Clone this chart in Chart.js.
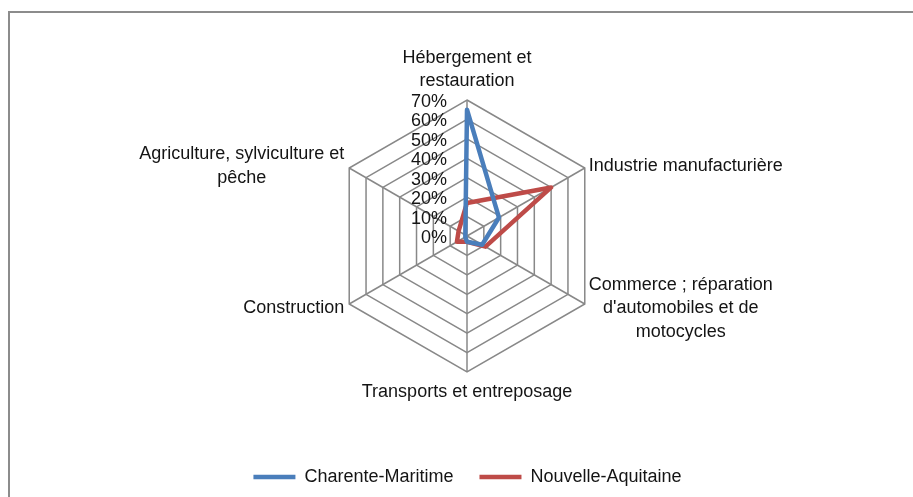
<!DOCTYPE html>
<html>
<head>
<meta charset="utf-8">
<script src="https://cdn.jsdelivr.net/npm/chart.js@4/dist/chart.umd.min.js"></script>
<style>
  html, body { margin: 0; padding: 0; background: #ffffff; overflow: hidden; }
  #frame { position: absolute; left: 8px; top: 11px; width: 2000px; height: 2000px; border-left: 2px solid #8c8c8c; border-top: 2px solid #8c8c8c; }
  #c { position: absolute; left: 0; top: 0; }
</style>
</head>
<body>
<div id="frame"></div>
<canvas id="c" width="913" height="497"></canvas>
<script>
// ---- Data ----
const categories = [
  ["Hébergement et", "restauration"],
  "Industrie manufacturière",
  ["Commerce ; réparation", "d'automobiles et de", "motocycles"],
  "Transports et entreposage",
  "Construction",
  ["Agriculture, sylviculture et", "pêche"]
];
const seriesNames = ["Charente-Maritime", "Nouvelle-Aquitaine"];
const charenteMaritime = [65, 19, 9, 3, 1, 1];
const nouvelleAquitaine = [17, 50, 11, 3, 6, 5];
const tickValues = [0, 10, 20, 30, 40, 50, 60, 70];
const tickLabels = ["0%", "10%", "20%", "30%", "40%", "50%", "60%", "70%"];

// ---- Styles ----
const FONT = '"Liberation Sans", Arial, sans-serif';
const TEXT_COLOR = '#141414';
const GRID_COLOR = '#888888';

Chart.defaults.font.family = FONT;
Chart.defaults.font.size = 18;
Chart.defaults.color = TEXT_COLOR;

const labelPlugin = {
  id: 'excelLabels',
  afterDatasetsDraw(chart) {
    const s = chart.scales.r;
    const ctx = chart.ctx;
    ctx.save();
    ctx.font = '18px ' + FONT;
    ctx.fillStyle = TEXT_COLOR;
    // tick labels, right-aligned to the left of the vertical axis
    ctx.textAlign = 'right';
    ctx.textBaseline = 'middle';
    tickValues.forEach((v, i) => {
      const d = s.getDistanceFromCenterForValue(v);
      ctx.fillText(tickLabels[i], s.xCenter - 20, s.yCenter - d + 2);
    });
    // point labels
    const lh = 23.5;
    ctx.textAlign = 'center';
    chart.data.labels.forEach((lab, i) => {
      const lines = Array.isArray(lab) ? lab : [lab];
      const n = lines.length;
      const p = s.getPointPosition(i, s.drawingArea);
      const bw = Math.max(...lines.map(l => ctx.measureText(l).width));
      let cx, firstY;
      const dx = p.x - s.xCenter;
      const dy = p.y - s.yCenter;
      if (Math.abs(dx) < 1) {
        cx = p.x;
        if (dy < 0) firstY = p.y - 7 - (n - 0.5) * lh;
        else firstY = p.y + 8 + lh / 2;
      } else {
        cx = dx > 0 ? p.x + 4 + bw / 2 : p.x - 5 - bw / 2;
        const blockCenter = dy < 0 ? p.y - 2 : p.y + 4.5;
        firstY = blockCenter - (n - 1) * lh / 2;
      }
      lines.forEach((l, k) => ctx.fillText(l, cx, firstY + k * lh));
    });
    ctx.restore();
  }
};

new Chart(document.getElementById('c'), {
  type: 'radar',
  data: {
    labels: categories,
    datasets: [
      {
        label: seriesNames[0],
        data: charenteMaritime,
        borderColor: '#4a7ebb',
        backgroundColor: 'rgba(0,0,0,0)',
        borderWidth: 4.5,
        borderJoinStyle: 'round',
        borderCapStyle: 'round',
        pointRadius: 0,
        pointHoverRadius: 0,
        fill: false
      },
      {
        label: seriesNames[1],
        data: nouvelleAquitaine,
        borderColor: '#be4b48',
        backgroundColor: 'rgba(0,0,0,0)',
        borderWidth: 4.5,
        borderJoinStyle: 'round',
        borderCapStyle: 'round',
        pointRadius: 0,
        pointHoverRadius: 0,
        fill: false
      }
    ]
  },
  options: {
    responsive: false,
    animation: false,
    events: [],
    layout: { padding: { top: 100, bottom: 1, left: 22, right: 0 } },
    scales: {
      r: {
        min: 0,
        max: 70,
        beginAtZero: true,
        ticks: { stepSize: 10, display: false },
        pointLabels: { display: false },
        grid: { color: GRID_COLOR, lineWidth: 1.5 },
        angleLines: { color: GRID_COLOR, lineWidth: 1.5 }
      }
    },
    plugins: {
      tooltip: { enabled: false },
      legend: {
        position: 'bottom',
        title: { display: true, text: '', font: { size: 10, lineHeight: 1 }, padding: { top: 60, bottom: 0 } },
        labels: {
          usePointStyle: true,
          pointStyle: 'line',
          pointStyleWidth: 42,
          padding: 26,
          color: TEXT_COLOR,
          font: { size: 18, family: FONT }
        }
      }
    }
  },
  plugins: [labelPlugin]
});
</script>
</body>
</html>
